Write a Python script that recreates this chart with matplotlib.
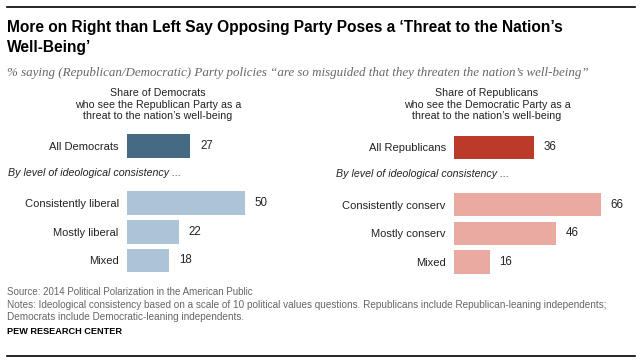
import matplotlib
matplotlib.use("Agg")
import matplotlib.pyplot as plt

# data
dem_labels = ["All Democrats", "Consistently liberal", "Mostly liberal", "Mixed"]
dem_values = [27, 50, 22, 18]
rep_labels = ["All Republicans", "Consistently conserv", "Mostly conserv", "Mixed"]
rep_values = [36, 66, 46, 16]

dem_colors = ["#456a84", "#adc3d6", "#adc3d6", "#adc3d6"]
rep_colors = ["#bc3a29", "#eaaaa2", "#eaaaa2", "#eaaaa2"]

title = "More on Right than Left Say Opposing Party Poses a \u2018Threat to the Nation\u2019s\nWell-Being\u2019"
subtitle = ("% saying (Republican/Democratic) Party policies \u201care so misguided "
            "that they threaten the nation\u2019s well-being\u201d")
dem_header = "Share of Democrats\nwho see the Republican Party as a\nthreat to the nation\u2019s well-being"
rep_header = "Share of Republicans\nwho see the Democratic Party as a\nthreat to the nation\u2019s well-being"
by_level = "By level of ideological consistency ..."
source = "Source: 2014 Political Polarization in the American Public"
notes = ("Notes: Ideological consistency based on a scale of 10 political values questions. "
         "Republicans include Republican-leaning independents;\n"
         "Democrats include Democratic-leaning independents.")

W, H = 640, 361
positions = [0, 2, 3, 4]

plt.rcParams["font.family"] = ["Liberation Sans", "DejaVu Sans"]

fig = plt.figure(figsize=(W / 100, H / 100), dpi=100)


def fx(x):
    return x / W


def fy(y):
    return 1 - y / H


def panel(x0, y_top, xmax, px_per_unit, labels, values, colors):
    # axes placed in pixel terms, y in bar slots
    unit = 28.6
    lo, hi = -0.6, 4.6
    h = (hi - lo) * unit
    w = xmax * px_per_unit
    ax = fig.add_axes([fx(x0), fy(y_top + h), w / W, h / H])
    bars = ax.barh(positions, values, height=0.82, color=colors)
    ax.set_ylim(hi, lo)
    ax.set_xlim(0, xmax)
    ax.set_yticks(positions)
    ax.set_yticklabels(labels, fontsize=8, color="#222222")
    ax.tick_params(axis="y", length=0, pad=6)
    ax.set_xticks([])
    for s in ax.spines.values():
        s.set_visible(False)
    ax.bar_label(bars, padding=7, fontsize=8.3, color="#222222")
    ax.patch.set_alpha(0)
    return ax


panel(127, 146 - 0.6 * 28.6, 70, 2.35, dem_labels, dem_values, dem_colors)
panel(454, 147.5 - 0.6 * 28.6, 70, 2.22, rep_labels, rep_values, rep_colors)

# rules top and bottom
fig.add_artist(plt.Line2D([fx(7), fx(635)], [fy(7), fy(7)], color="black", lw=1.2))
fig.add_artist(plt.Line2D([fx(7), fx(635)], [fy(356), fy(356)], color="black", lw=1.2))

fig.text(fx(7), fy(20), title, ha="left", va="top", fontsize=11.2, fontweight="bold",
         linespacing=1.45, color="black")
fig.text(fx(7), fy(73), subtitle, ha="left", va="center", fontsize=9.4, style="italic",
         family=["Liberation Serif", "DejaVu Serif"], color="#666666")

fig.text(fx(158), fy(104.5), dem_header, ha="center", va="center", fontsize=7.7,
         linespacing=1.15, color="#222222")
fig.text(fx(487), fy(104.5), rep_header, ha="center", va="center", fontsize=7.7,
         linespacing=1.15, color="#222222")

fig.text(fx(8), fy(173), by_level, ha="left", va="center", fontsize=7.7, style="italic",
         color="#222222")
fig.text(fx(336), fy(174), by_level, ha="left", va="center", fontsize=7.7, style="italic",
         color="#222222")

fig.text(fx(7), fy(292), source, ha="left", va="center", fontsize=7.0, color="#666666")
fig.text(fx(7), fy(300), notes, ha="left", va="top", fontsize=7.2, color="#666666",
         linespacing=1.2)
fig.text(fx(7), fy(331), "PEW RESEARCH CENTER", ha="left", va="center", fontsize=6.6,
         fontweight="bold", color="black")

fig.savefig("out.png", dpi=100)
